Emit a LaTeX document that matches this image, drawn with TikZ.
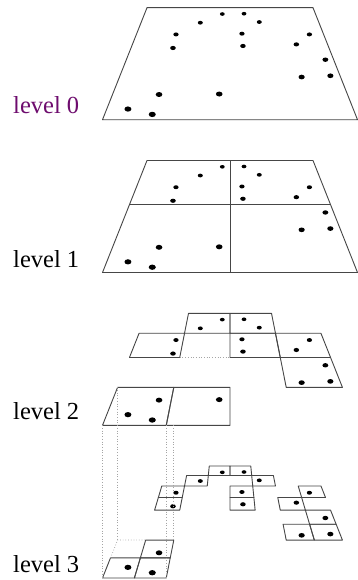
\documentclass[tikz,border=0pt]{standalone}
\usepackage{fontspec}
\setmainfont{Liberation Serif}

% Perspective plane: (pl cs:u,v) with u across (0..1) and v in depth
% (0 = far edge, 1 = near edge); \pltop is the screen y of the far edge.
\makeatletter
\def\pl@split#1,#2\pl@end{\edef\pl@u{#1}\edef\pl@v{#2}}
\tikzdeclarecoordinatesystem{pl}{%
  \pl@split#1\pl@end
  \pgfmathsetmacro\pl@s{1/(1.536-0.536*(\pl@v))}%
  \pgfmathsetmacro\pl@x{230+((\pl@u)-0.5)*255*\pl@s}%
  \pgfmathsetmacro\pl@y{\pltop+112*(\pl@s-0.651)/0.349}%
  \pgfpoint{\pl@x pt}{-\pl@y pt}%
}
\makeatother
\def\pltop{0}

\definecolor{lvlpurple}{RGB}{110,12,110}
\definecolor{edgecol}{RGB}{70,70,70}
\definecolor{guidecol}{RGB}{165,165,165}

\tikzset{
  grid/.style={draw=edgecol, line width=0.9pt, line join=round},
  guide/.style={draw=guidecol, line width=0.7pt, dotted},
  lbl/.style={anchor=base west, inner sep=0pt, font=\fontsize{24.5}{28}\selectfont},
}

% a sample point, drawn as an ellipse shrinking with depth
\newcommand\pdot[2]{%
  \pgfmathsetmacro\dotS{1/(1.536-0.536*#2)}%
  \pgfmathsetmacro\dotRx{3.6*\dotS}%
  \pgfmathsetmacro\dotRy{2.7*\dotS}%
  \fill (pl cs:#1,#2) ellipse [x radius=\dotRx pt, y radius=\dotRy pt];}

% one quadtree cell: row, column, divisions per side
\newcommand\qcell[3]{%
  \pgfmathsetmacro\qcA{#2/#3}\pgfmathsetmacro\qcB{(#2+1)/#3}%
  \pgfmathsetmacro\qrA{#1/#3}\pgfmathsetmacro\qrB{(#1+1)/#3}%
  \draw[grid] (pl cs:\qcA,\qrA) -- (pl cs:\qcB,\qrA) -- (pl cs:\qcB,\qrB)
    -- (pl cs:\qcA,\qrB) -- cycle;}

\def\allpts{.455/.084,.582/.080,.333/.192,.665/.184,.2115/.325,.564/.317,
  .924/.325,.212/.463,.566/.444,.840/.428,.960/.571,.824/.714,.956/.704,
  .198/.841,.454/.838,.086/.936,.190/.969}
\def\finepts{.455/.084,.582/.080,.333/.192,.665/.184,.2115/.325,.564/.317,
  .924/.325,.212/.463,.566/.444,.840/.428,.960/.571,.824/.714,.956/.704,
  .198/.841,.086/.936,.190/.969}

\begin{document}
\begin{tikzpicture}[x=1pt,y=1pt]
\useasboundingbox[fill=white] (0,0) rectangle (357,-580);

% ---------- level 0: the whole domain ----------
\def\pltop{7.7}
\draw[grid] (pl cs:0,0) -- (pl cs:1,0) -- (pl cs:1,1) -- (pl cs:0,1) -- cycle;
\foreach \u/\v in \allpts {\pdot{\u}{\v}}
\node[lbl, text=lvlpurple] (lab0) at (13,-113.3) {level 0};

% ---------- level 1: four quadrants ----------
\def\pltop{160.5}
\draw[grid] (pl cs:0,0) -- (pl cs:1,0) -- (pl cs:1,1) -- (pl cs:0,1) -- cycle;
\draw[grid] (pl cs:0.5,0) -- (pl cs:0.5,1);
\draw[grid] (pl cs:0,0.5) -- (pl cs:1,0.5);
\foreach \u/\v in \allpts {\pdot{\u}{\v}}
\node[lbl] (lab1) at (13,-267.7) {level 1};

% ---------- level 2: occupied cells of the 4x4 grid ----------
\def\pltop{313.3}
\foreach \r/\c in {0/1,0/2,1/0,1/2,1/3,2/3,3/0,3/1} {\qcell{\r}{\c}{4}}
\draw[guide] (pl cs:0.25,0.5) -- (pl cs:0.5,0.5);
\foreach \u/\v in \allpts {\pdot{\u}{\v}}
\coordinate (a2bl) at (pl cs:0,1);
\coordinate (a2tl) at (pl cs:0,0.75);
\coordinate (a2br) at (pl cs:0.25,1);
\coordinate (a2tr) at (pl cs:0.25,0.75);
\node[lbl] (lab2) at (13,-419) {level 2};

% ---------- level 3: occupied cells of the 8x8 grid ----------
\def\pltop{466}
\foreach \r/\c in {0/3,0/4,1/2,1/5,2/1,2/4,2/7,3/1,3/4,3/6,4/7,5/6,5/7,6/1,7/0,7/1}
  {\qcell{\r}{\c}{8}}
\draw[guide] (pl cs:0,0.875) -- (pl cs:0,0.75) -- (pl cs:0.125,0.75);
\foreach \u/\v in \finepts {\pdot{\u}{\v}}
\coordinate (a3bl) at (pl cs:0,1);
\coordinate (a3tl) at (pl cs:0,0.75);
\coordinate (a3br) at (pl cs:0.25,1);
\coordinate (a3tr) at (pl cs:0.25,0.75);
\node[lbl] (lab3) at (13,-572) {level 3};

% drop lines from the level-2 cell to its level-3 children
\draw[guide] (a2bl) -- (a3bl);
\draw[guide] (a2tl) -- (a3tl);
\draw[guide] (a2br) -- (a3br);
\draw[guide] (a2tr |- a2br) -- (a3tr);
\end{tikzpicture}
\end{document}
